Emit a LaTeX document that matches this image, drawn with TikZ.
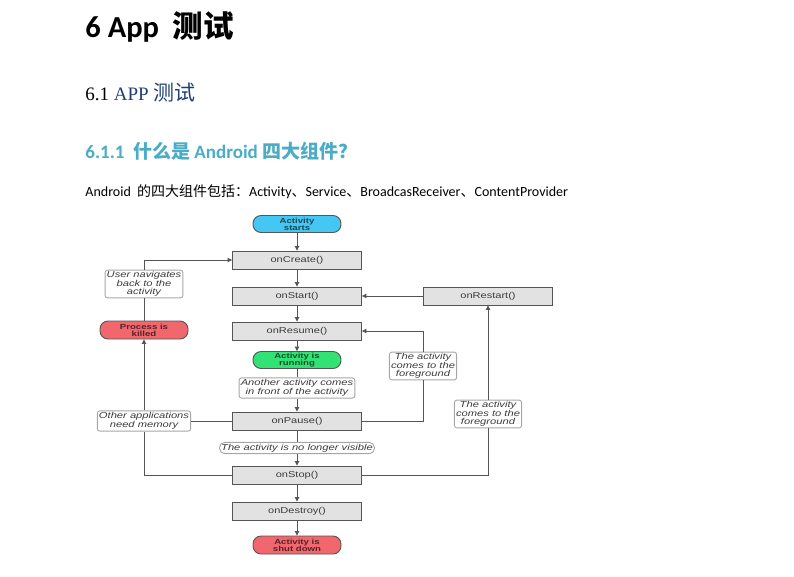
\documentclass[tikz,border=0pt]{standalone}
\usepackage{fontspec}
\setmainfont{Carlito}
\newfontfamily\cjk{Noto Sans CJK SC}
\newfontfamily\hel[FakeStretch=1.3]{Liberation Sans}
\newfontfamily\ser{Liberation Serif}
\usepackage{xcolor}
\usetikzlibrary{positioning, arrows.meta, shadows}

\definecolor{lineg}{HTML}{555555}
\definecolor{boxg}{HTML}{E2E2E2}
\definecolor{textg}{HTML}{3C3C3C}
\definecolor{startc}{HTML}{45C7F4}
\definecolor{runc}{HTML}{33E274}
\definecolor{killc}{HTML}{F0676D}
\definecolor{headblue}{HTML}{1F3F73}
\definecolor{headcyan}{HTML}{4BACC6}

\begin{document}
\begin{tikzpicture}[x=1pt, y=-1pt, line width=0.9pt, >={Triangle[length=4.5pt,width=4.5pt]},
  cbox/.style={draw=lineg, fill=boxg, minimum width=129pt, minimum height=18pt,
               text=textg, font=\hel\fontsize{8.5}{9}\selectfont,
               drop shadow={opacity=0.25, shadow xshift=0.8pt, shadow yshift=-0.8pt}},
  pill/.style={draw=lineg, rounded corners=8pt, minimum width=88pt, minimum height=17pt,
               align=center, inner sep=1pt, font=\hel\bfseries\fontsize{7.4}{7}\selectfont},
  note/.style={draw=gray!70, fill=white, rounded corners=2.5pt, align=center,
               inner sep=1.6pt, text=textg, font=\hel\itshape\fontsize{8.6}{7.6}\selectfont}]
  \useasboundingbox (0,0) rectangle (794,576);
  \node[anchor=base west, inner sep=0, font=\fontsize{30.5}{32}\selectfont\bfseries] (h1) at (85,37)
    {6 App\ \ {\cjk 测试}};
  \node[anchor=base west, inner sep=0, font=\ser\fontsize{19}{20}\selectfont] (h2) at (85,100)
    {6.1 \textcolor{headblue}{APP {\cjk\fontsize{21}{20}\selectfont 测试}}};
  \node[anchor=base west, inner sep=0, text=headcyan, font=\fontsize{19}{20}\selectfont\bfseries] (h3) at (85,158)
    {6.1.1\ \ {\cjk 什么是} Android {\cjk 四大组件？}};
  \node[anchor=base west, inner sep=0, font=\fontsize{14}{16}\selectfont] (intro) at (85,196)
    {Android\ \ {\cjk 的四大组件包括：}Activity{\cjk 、}Service{\cjk 、}BroadcasReceiver{\cjk 、}ContentProvider};

  \node[pill, fill=startc, text=startc!35!black] (starts) at (297,224) {Activity\\starts};
  \node[cbox] (create)  at (297,260) {onCreate()};
  \node[cbox] (start)   at (297,296) {onStart()};
  \node[cbox] (resume)  at (297,331) {onResume()};
  \node[pill, fill=runc, text=runc!35!black] (running) at (297,360) {Activity is\\running};
  \node[note] (front)   at (297,388) {Another activity comes\\in front of the activity};
  \node[cbox] (pause)   at (297,421) {onPause()};
  \node[note, rounded corners=5pt] (hidden) at (297,448) {The activity is no longer visible};
  \node[cbox] (stop)    at (297,475) {onStop()};
  \node[cbox] (destroy) at (297,511) {onDestroy()};
  \node[pill, fill=killc, text=killc!35!black, minimum height=18pt] (shut) at (297,545) {Activity is\\shut down};
  \node[cbox] (restart) at (488,296) {onRestart()};
  \node[pill, fill=killc, text=killc!35!black, minimum height=18pt] (killed) at (144,330) {Process is\\killed};
  \node[note] (nav) at (144,284) {User navigates\\back to the\\activity};
  \node[note] (mem) at (144,421) {Other applications\\need memory};
  \node[note] (fg1) at (423,366) {The activity\\comes to the\\foreground};
  \node[note] (fg2) at (488,414) {The activity\\comes to the\\foreground};

  \foreach \a/\b in {running/front, pause/hidden, pause/mem, killed/nav}
     \draw[lineg] (\a) -- (\b);
  \foreach \a/\b in {starts/create, create/start, start/resume, resume/running,
                     front/pause, hidden/stop, stop/destroy, destroy/shut,
                     mem/killed, fg2/restart, restart/start}
     \draw[lineg, ->] (\a) -- (\b);
  \draw[lineg, ->] (nav) |- (create);
  \draw[lineg] (stop) -| (mem);
  \draw[lineg] (pause) -| (fg1);
  \draw[lineg, ->] (fg1) |- (resume);
  \draw[lineg] (stop) -| (fg2);
\end{tikzpicture}
\end{document}
